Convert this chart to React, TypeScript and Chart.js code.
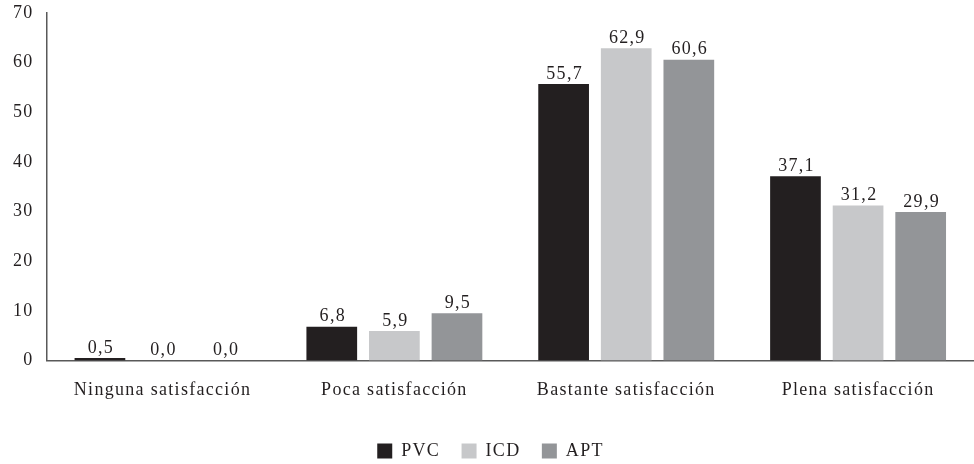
import React, { useEffect, useRef } from "react";
import { Chart, registerables } from "chart.js";

Chart.register(...registerables);

const categories = ["Ninguna satisfacción", "Poca satisfacción", "Bastante satisfacción", "Plena satisfacción"];
const seriesNames = ["PVC", "ICD", "APT"];
const pvc = [0.5, 6.8, 55.7, 37.1];
const icd = [0.0, 5.9, 62.9, 31.2];
const apt = [0.0, 9.5, 60.6, 29.9];
const colors = ["#231f20", "#c7c8ca", "#939598"];
const yTicks = [0, 10, 20, 30, 40, 50, 60, 70];

const FONT = "'Liberation Serif', 'DejaVu Serif', serif";
const FS = 18;
const SPACING = "1.3px";

const spacingPlugin = {
  id: "letterSpacing",
  beforeUpdate(chart: any) {
    chart.ctx.letterSpacing = SPACING;
  },
  beforeLayout(chart: any) {
    chart.ctx.letterSpacing = SPACING;
  },
  beforeDraw(chart: any) {
    chart.ctx.letterSpacing = SPACING;
  },
};

const labelPlugin = {
  id: "valueLabels",
  afterDatasetsDraw(chart: any) {
    const ctx = chart.ctx;
    ctx.save();
    ctx.letterSpacing = SPACING;
    ctx.font = `${FS}px ${FONT}`;
    ctx.fillStyle = "#231f20";
    ctx.textAlign = "center";
    ctx.textBaseline = "bottom";
    chart.data.datasets.forEach((ds: any, i: number) => {
      const meta = chart.getDatasetMeta(i);
      meta.data.forEach((bar: any, j: number) => {
        const v = ds.data[j] as number;
        ctx.fillText(v.toFixed(1).replace(".", ","), bar.x + 1, bar.y - 1);
      });
    });
    ctx.restore();
  },
};

export default function App() {
  const ref = useRef<HTMLCanvasElement>(null);
  useEffect(() => {
    if (!ref.current) return;
    const chart = new Chart(ref.current, {
      type: "bar",
      data: {
        labels: categories,
        datasets: [pvc, icd, apt].map((d, i) => ({
          label: seriesNames[i],
          data: d,
          backgroundColor: colors[i],
          borderWidth: 0,
          categoryPercentage: 0.81,
          barPercentage: 0.81,
        })),
      },
      options: {
        animation: false,
        responsive: true,
        maintainAspectRatio: false,
        layout: { padding: { top: 0, right: -7, left: 0, bottom: -6 } },
        plugins: {
          legend: {
            position: "bottom",
            labels: {
              boxWidth: 15,
              boxHeight: 15,
              padding: 4,
              color: "#231f20",
              font: { family: FONT, size: FS },
              generateLabels: (chart: any) => {
                const items = Chart.defaults.plugins.legend.labels.generateLabels(chart);
                return items.map((it: any, i: number) => ({
                  ...it,
                  text: i < items.length - 1 ? it.text + "   " : it.text,
                }));
              },
            },
          },
          tooltip: { enabled: false },
        },
        scales: {
          x: {
            grid: { display: false, drawTicks: false },
            border: { display: true, color: "#595959", width: 1.5 },
            ticks: { color: "#231f20", font: { family: FONT, size: FS }, padding: 19 },
            afterFit: (axis: any) => {
              axis.height += 18;
            },
          },
          y: {
            min: 0,
            max: 70,
            afterBuildTicks: (axis: any) => {
              axis.ticks = yTicks.map((v) => ({ value: v }));
            },
            afterFit: (axis: any) => {
              axis.paddingTop = 13;
            },
            grid: { display: false, drawTicks: false },
            border: { display: true, color: "#595959", width: 1.5 },
            ticks: { color: "#231f20", font: { family: FONT, size: FS }, padding: 13 },
          },
        },
      },
      plugins: [spacingPlugin, labelPlugin],
    });
    return () => chart.destroy();
  }, []);
  return (
    <div style={{ position: "fixed", left: 0, top: 0, width: 974, height: 464, background: "#fff" }}>
      <canvas ref={ref} />
    </div>
  );
}
